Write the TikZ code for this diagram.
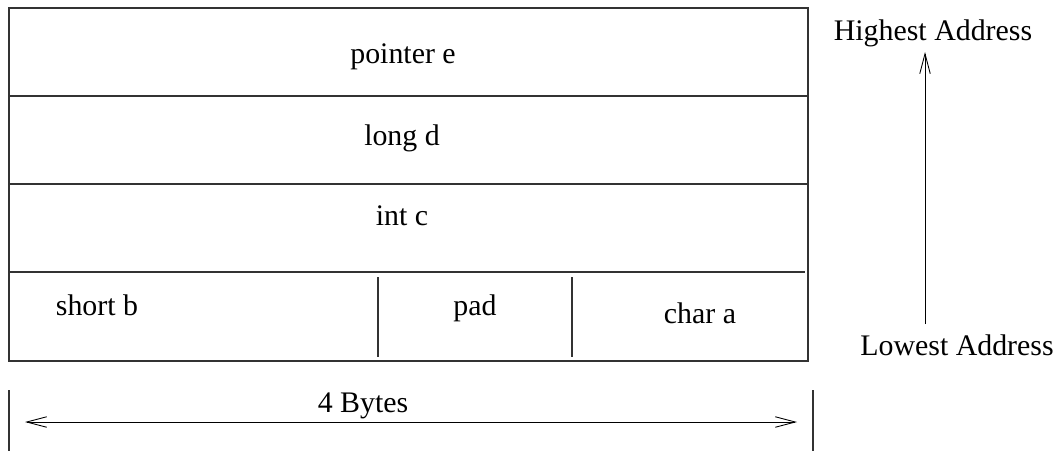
\documentclass[tikz,border=0pt]{standalone}
\usepackage{fontspec}
\setmainfont{Liberation Serif}
\usepackage{tikz}
\usetikzlibrary{arrows.meta, positioning, calc}

\begin{document}
\begin{tikzpicture}[
    x=0.02cm, y=-0.02cm,
    field/.style={font=\fontsize{17}{20}\selectfont, anchor=base, inner sep=0pt},
    label/.style={font=\fontsize{17}{20}\selectfont, anchor=base, inner sep=0pt},
    wall/.style={line width=0.6pt, draw=black!80},
    arrow/.style={{Straight Barb[length=0.4cm, width=0.21cm]}-{Straight Barb[length=0.4cm, width=0.21cm]}, line width=0.5pt},
    uparrow/.style={-{Straight Barb[length=0.4cm, width=0.21cm]}, line width=0.5pt}
]
    \useasboundingbox (0,0) rectangle (1061,451);

    % Struct frame and rows
    \draw[wall] (9,8) rectangle (808,361);
    \draw[wall] (9,96) -- (808,96);
    \draw[wall] (9,184) -- (808,184);
    \draw[wall] (9,272) -- (805,272);

    % Dividers in the last row
    \draw[wall] (378,277) -- (378,357);
    \draw[wall] (572,277) -- (572,357);

    % Fields
    \node[field] (e) at (403,63) {pointer e};
    \node[field] (d) at (402,145) {long d};
    \node[field] (c) at (402,225) {int c};
    \node[field] (b) at (97,315) {short b};
    \node[field] (pad) at (475,315) {pad};
    \node[field] (a) at (700,323) {char a};

    % Width of one word
    \draw[wall] (9,390) -- (9,451);
    \draw[wall] (813,390) -- (813,451);
    \coordinate (wleft) at (25,422);
    \coordinate (wright) at (797,422);
    \draw[arrow] (wleft) -- (wright);
    \node[label] (bytes) at (363,412) {4 Bytes};

    % Address direction
    \node[label] (high) at (933,40) {Highest Address};
    \node[label] (low) at (957,355) {Lowest Address};
    \coordinate (abot) at (925,324);
    \coordinate (atop) at (925,52);
    \draw[uparrow] (abot) -- (atop);
\end{tikzpicture}
\end{document}
